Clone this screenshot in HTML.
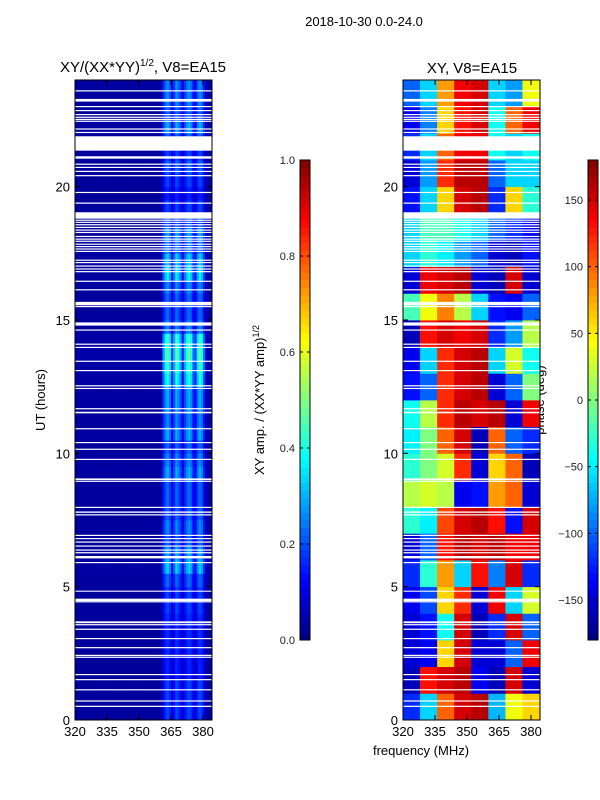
<!DOCTYPE html>
<html><head><meta charset="utf-8">
<style>
body{margin:0;background:#fff;width:600px;height:800px;overflow:hidden}
svg{display:block;font-family:"Liberation Sans","DejaVu Sans",sans-serif}
</style></head><body>
<svg id="fig" width="600" height="800" xmlns="http://www.w3.org/2000/svg">
<text x="364" y="26" font-size="13" text-anchor="middle">2018-10-30 0.0-24.0</text>
<text x="143" y="72" font-size="15" text-anchor="middle">XY/(XX*YY)<tspan font-size="10" dy="-6">1/2</tspan><tspan dy="6">, V8=EA15</tspan></text>
<text x="472" y="73" font-size="15" text-anchor="middle">XY, V8=EA15</text>
<text transform="translate(45,400) rotate(-90)" font-size="13" text-anchor="middle">UT (hours)</text>
<text x="421" y="755" font-size="13" text-anchor="middle">frequency (MHz)</text>
<text transform="translate(264,400) rotate(-90)" font-size="13" text-anchor="middle">XY amp. / (XX*YY amp)<tspan font-size="9" dy="-5">1/2</tspan></text>
<text transform="translate(544,400) rotate(-90)" font-size="13" text-anchor="middle">phase (deg)</text>
<g id="left"></g>
<g id="right"></g>
<g id="cb1"></g>
<g id="cb2"></g>
</svg>
<script>
// ---------- data ----------
const xTicks = [320, 335, 350, 365, 380];
const yTicks = [0, 5, 10, 15, 20];
const ampTicks = [0.0, 0.2, 0.4, 0.6, 0.8, 1.0];
const phaseTicks = [-150, -100, -50, 0, 50, 100, 150];
// band brightness per half-hour, from 0h upward
const ampRows = [0.25,0.25,0.25,0.2,0.2,0.22,0.22,0.22,0.25,0.25,0.3,0.45,0.4,0.3,0.35,0.3,0.3,0.3,0.4,0.35,0.3,0.4,0.35,0.4,
0.4,0.55,0.6,0.65,0.6,0.35,0.3,0.3,0.35,0.5,0.45,0.35,0.4,0.3,0.25,0.2,0.25,0.3,0.25,0.3,0.4,0.3,0.35,0.35];
// relative band gain per 1 MHz bin 320..383
const ampCols = [0.03,0.03,0.03,0.03,0.03,0.03,0.03,0.03,0.03,0.03,0.03,0.03,0.03,0.03,0.03,0.03,0.03,0.03,0.03,0.03,
0.03,0.03,0.03,0.03,0.03,0.03,0.03,0.03,0.03,0.03,0.03,0.03,0.03,0.03,0.03,0.03,0.03,0.03,0.03,0.03,0.05,
0.4,0.6,0.7,0.55,0.25,0.45,0.7,0.6,0.45,0.2,0.45,0.6,0.7,0.6,0.35,0.25,0.55,0.7,0.6,0.35,0.06,0.06,0.06];
// phase (deg) per hour (0..23) x 8 MHz column (320..384)
const phaseGrid = [
[-120,-60,100,150,160,-70,40,60],
[-160,130,150,160,-140,-160,150,-150],
[-150,-140,60,150,-150,-150,-100,140],
[-150,-130,-40,150,-160,-120,150,-100],
[-140,-110,60,120,-150,140,-60,30],
[-120,-30,80,-60,130,-90,150,-120],
[-150,-100,130,160,150,160,140,140],
[-30,-50,110,150,160,130,-130,150],
[20,30,20,-140,-130,80,100,-150],
[-30,0,30,120,-150,60,100,-160],
[-50,0,100,150,-160,100,-100,-120],
[-40,20,120,160,150,160,-150,140],
[-130,-100,120,150,160,-150,-100,0],
[-140,-60,120,150,160,-60,30,-40],
[-160,130,150,140,150,-120,-80,20],
[-20,40,90,20,-60,-130,-140,-100],
[-150,140,150,160,-150,-160,150,-150],
[-60,-30,-50,-80,-100,-150,-160,-130],
[-60,-20,-20,-40,-60,-100,-120,-140],
[-130,-60,60,150,160,-120,60,-30],
[-150,-80,120,160,160,-100,-60,-60],
[-120,-60,100,140,140,-40,-60,-40],
[-140,-90,60,130,150,-40,100,140],
[-100,-60,80,140,150,-60,-80,40]];
// flagged (blank) time ranges in hours [start,end]; single value = thin line
const gaps = [[0.49],[0.69],[1.11],[1.49],[1.68],[2.33],[2.4],[2.69],[3.03],[3.38],[3.55],[3.63,3.7],[4.41],[4.46,4.55],[4.81,4.85],
[5.88],[6.06,6.15],[6.25],[6.35],[6.5],[6.65],[6.78],[6.9],[7.67],[7.77,7.82],[7.95],[8.93],[9.0,9.06],[9.75],[10.13],[10.38],[10.9],[11.5,11.56],[11.65],
[12.41],[12.51],[13.08],[13.43],[13.95],[14.07],[14.6],[14.79,14.91],[15.48],[15.55,15.68],[16.11],[16.43],[16.79],[16.89],[17.0],[17.13],[17.22],
[17.55],[17.64],[17.73],[17.82],[17.93],[18.01],[18.11],[18.26],[18.35],[18.45],[18.55],[18.64],[18.72],[18.8,19.04],[19.36],[19.76],
[20.39],[20.55],[20.7],[20.82],[21.05,21.14],[21.35,21.89],[22.01],[22.14],[22.43],[22.5],[22.58],[22.68],[22.83],[22.98],[23.19,23.29],[23.57]];
// ---------- helpers ----------
const NS = "http://www.w3.org/2000/svg";
function jet(v){v=Math.max(0,Math.min(1,v));
 const f=(a)=>Math.max(0,Math.min(1,1.5-Math.abs(4*v-a)));
 const r=f(3),g=f(2),b=f(1);
 return `rgb(${Math.round(r*255)},${Math.round(g*255)},${Math.round(b*255)})`;}
function mk(tag,attrs,parent){const e=document.createElementNS(NS,tag);for(const k in attrs)e.setAttribute(k,attrs[k]);parent.appendChild(e);return e;}
const Y0=720, Y1=80;
const yS = h => Y0 - (h/24)*(Y0-Y1);
function panel(g, x0, fill, name){
  const xS = f => x0 + (f-320)*32/15;
  const x1 = x0+137;
  fill(g, xS);
  for(const gp of gaps){
    const a=gp[0], b=gp.length>1?gp[1]:gp[0]+0.045;
    const r=mk('rect',{x:x0,y:yS(b),width:137,height:yS(a)-yS(b),fill:'#fff'},g);
    
    
  }
  const fr=mk('rect',{x:x0,y:Y1,width:137,height:Y0-Y1,fill:'none',stroke:'#000','stroke-width':1},g);
  
  
  for(const t of xTicks){
    const x=xS(t);
    mk('line',{x1:x,x2:x,y1:Y0,y2:Y0-5,stroke:'#000'},g);
    mk('line',{x1:x,x2:x,y1:Y1,y2:Y1+5,stroke:'#000'},g);
    const tx=mk('text',{x:x,y:Y0+16,'font-size':13,'text-anchor':'middle'},g);
    tx.textContent=t;
    
    
  }
  for(const t of yTicks){
    const y=yS(t);
    mk('line',{x1:x0,x2:x0+5,y1:y,y2:y,stroke:'#000'},g);
    mk('line',{x1:x1,x2:x1-5,y1:y,y2:y,stroke:'#000'},g);
    const tx=mk('text',{x:x0-5,y:y+5,'font-size':13,'text-anchor':'end'},g);
    tx.textContent=t;
    
    
  }
}
panel(document.getElementById('left'),75,(g,xS)=>{
  for(let r=0;r<ampRows.length;r++){
    for(let c=0;c<ampCols.length;c++){
      const v=0.02+ampCols[c]*ampRows[r];
      const rc=mk('rect',{x:xS(320+c),y:yS((r+1)*0.5),width:xS(321+c)-xS(320+c)+0.4,height:yS(r*0.5)-yS((r+1)*0.5)+0.4,fill:jet(v)},g);
      
      
    }
  }
},'left-axes');
panel(document.getElementById('right'),403,(g,xS)=>{
  for(let r=0;r<phaseGrid.length;r++){
    for(let c=0;c<phaseGrid[r].length;c++){
      const f0=320+c*8, f1=Math.min(384.2,f0+8);
      const v=(phaseGrid[r][c]+180)/360;
      const rc=mk('rect',{x:xS(f0),y:yS(r+1),width:xS(f1)-xS(f0)+0.4,height:yS(r)-yS(r+1)+0.4,fill:jet(v)},g);
      
      
    }
  }
},'right-axes');
function colorbar(g,x,lo,hi,ticks,fmt){
  const top=160,bot=640,n=64;
  for(let i=0;i<n;i++){
    const y=bot-(i+1)*(bot-top)/n;
    mk('rect',{x:x,y:y,width:10,height:(bot-top)/n+0.5,fill:jet((i+0.5)/n)},g);
  }
  const fr=mk('rect',{x:x,y:top,width:10,height:bot-top,fill:'none',stroke:'#000'},g);
  
  
  for(const t of ticks){
    const y=bot-(t-lo)/(hi-lo)*(bot-top);
    mk('line',{x1:x,x2:x+3,y1:y,y2:y,stroke:'#000'},g);
    mk('line',{x1:x+10,x2:x+7,y1:y,y2:y,stroke:'#000'},g);
    const tx=mk('text',{x:x-5,y:y+4,'font-size':11,'text-anchor':'end',fill:'#222'},g);
    tx.textContent=fmt(t);
    
    
  }
}
colorbar(document.getElementById('cb1'),300,0,1,ampTicks,t=>t.toFixed(1));
colorbar(document.getElementById('cb2'),588,-180,180,phaseTicks,t=>t<0?'\u2212'+(-t):String(t));
</script>
</body></html>
